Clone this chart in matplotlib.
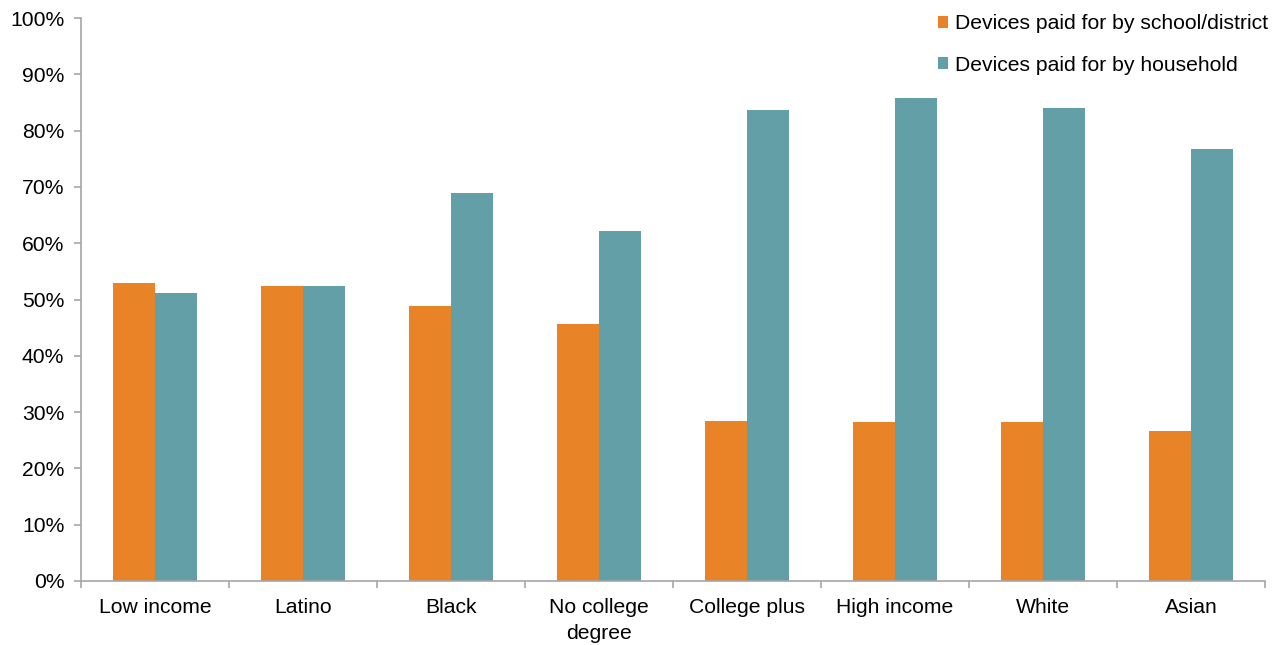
import matplotlib
matplotlib.use("Agg")
import matplotlib.pyplot as plt
import numpy as np
from matplotlib.ticker import FixedLocator, PercentFormatter

categories = ["Low income", "Latino", "Black", "No college\ndegree", "College plus",
              "High income", "White", "Asian"]
school = [53.0, 52.4, 48.8, 45.7, 28.5, 28.3, 28.2, 26.6]
household = [51.2, 52.4, 69.0, 62.1, 83.6, 85.8, 84.0, 76.7]
series_names = ["Devices paid for by school/district", "Devices paid for by household"]

plt.rcParams['font.family'] = ['Liberation Sans', 'DejaVu Sans']
FS = 15.2

fig = plt.figure(figsize=(12.81, 6.45), dpi=100)
ax = fig.add_axes([81/1281, 1-581/645, (1265-81)/1281, (581-18)/645])

x = np.arange(len(categories))
w = 0.284
ax.bar(x - w/2, school, w, color="#E88427", label=series_names[0])
ax.bar(x + w/2, household, w, color="#639FA6", label=series_names[1])

ax.set_xlim(-0.5, len(categories) - 0.5)
ax.set_ylim(0, 100)
ax.set_yticks(np.arange(0, 101, 10))
ax.yaxis.set_major_formatter(PercentFormatter(decimals=0))
ax.set_xticks(x)
ax.set_xticklabels(categories, linespacing=1.5)
ax.xaxis.set_minor_locator(FixedLocator(np.arange(-0.5, len(categories), 1)))
ax.tick_params(axis='x', which='major', length=0, pad=12, labelsize=FS)
ax.tick_params(axis='x', which='minor', length=5, color="#A6A6A6", width=1.2)
ax.tick_params(axis='y', length=5, color="#A6A6A6", width=1.2, labelsize=FS, pad=7)
for s in ["top", "right"]:
    ax.spines[s].set_visible(False)
for s in ["left", "bottom"]:
    ax.spines[s].set_color("#A6A6A6")
    ax.spines[s].set_linewidth(1.2)

leg = ax.legend(loc="upper right", bbox_to_anchor=(1.013, 1.029), frameon=False, fontsize=FS,
                handlelength=0.5, handleheight=0.5, handletextpad=0.3, labelspacing=1.05,
                borderaxespad=0.2)

fig.savefig("out.png", dpi=100)
